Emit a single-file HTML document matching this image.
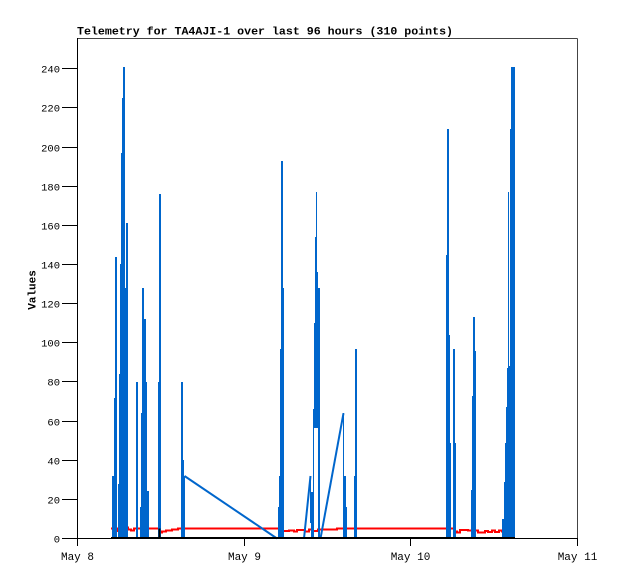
<!DOCTYPE html>
<html><head><meta charset="utf-8"><style>
html,body{margin:0;padding:0;background:#fff;}
svg{display:block;}
text{font-family:"Liberation Mono","DejaVu Sans Mono",monospace;fill:#000;}
</style></head><body>
<svg width="618" height="579" viewBox="0 0 618 579" xmlns="http://www.w3.org/2000/svg">
<rect x="0" y="0" width="618" height="579" fill="#fff"/>
<!-- frame -->
<line x1="77.5" y1="38.5" x2="577.5" y2="38.5" stroke="#444" stroke-width="1"/>
<line x1="577.5" y1="38.5" x2="577.5" y2="538.5" stroke="#444" stroke-width="1"/>
<line x1="77.5" y1="38" x2="77.5" y2="546" stroke="#000" stroke-width="1"/>
<line x1="77" y1="538.5" x2="578" y2="538.5" stroke="#000" stroke-width="1"/>
<!-- ticks -->
<g stroke="#000" stroke-width="1">
<line x1="62" y1="538.5" x2="77.5" y2="538.5"/>
<line x1="62" y1="499.5" x2="77.5" y2="499.5"/>
<line x1="62" y1="460.5" x2="77.5" y2="460.5"/>
<line x1="62" y1="421.5" x2="77.5" y2="421.5"/>
<line x1="62" y1="381.5" x2="77.5" y2="381.5"/>
<line x1="62" y1="342.5" x2="77.5" y2="342.5"/>
<line x1="62" y1="303.5" x2="77.5" y2="303.5"/>
<line x1="62" y1="264.5" x2="77.5" y2="264.5"/>
<line x1="62" y1="225.5" x2="77.5" y2="225.5"/>
<line x1="62" y1="186.5" x2="77.5" y2="186.5"/>
<line x1="62" y1="147.5" x2="77.5" y2="147.5"/>
<line x1="62" y1="107.5" x2="77.5" y2="107.5"/>
<line x1="62" y1="68.5" x2="77.5" y2="68.5"/>
<line x1="77.5" y1="538" x2="77.5" y2="546"/>
<line x1="244.5" y1="538" x2="244.5" y2="546"/>
<line x1="410.5" y1="538" x2="410.5" y2="546"/>
<line x1="577.5" y1="538" x2="577.5" y2="546"/>
</g>
<g font-size="10.5" text-anchor="end">
<text x="60" y="542.5">0</text>
<text x="60" y="503.5">20</text>
<text x="60" y="464.5">40</text>
<text x="60" y="425.5">60</text>
<text x="60" y="385.5">80</text>
<text x="60" y="346.5">100</text>
<text x="60" y="307.5">120</text>
<text x="60" y="268.5">140</text>
<text x="60" y="229.5">160</text>
<text x="60" y="190.5">180</text>
<text x="60" y="151.5">200</text>
<text x="60" y="111.5">220</text>
<text x="60" y="72.5">240</text>
</g>
<g font-size="11" text-anchor="middle">
<text x="77.5" y="560">May 8</text>
<text x="244.5" y="560">May 9</text>
<text x="410.5" y="560">May 10</text>
<text x="577.5" y="560">May 11</text>
</g>
<text x="77" y="34.5" font-size="11.4" font-weight="bold" textLength="376" lengthAdjust="spacingAndGlyphs">Telemetry for TA4AJI-1 over last 96 hours (310 points)</text>
<text transform="translate(35.5,290) rotate(-90)" font-size="11" font-weight="bold" text-anchor="middle">Values</text>

<!-- red series -->
<polyline fill="none" stroke="#ff0000" stroke-width="2" points="
111,528.5 115,528.5 115,531 118,531 118,528.5 123,528.5 123,525 126,525 126,527.5 128,527.5 128,529.5 131,529.5 131,530.5 134,530.5 134,528.5 159,528.5 159,532.5 162,532.5 162,531.5 166,531.5 166,530.5 172,530.5 172,529.5 178,529.5 178,528.5 283,528.5 283,531 289,531 289,530.5 294,530.5 294,531.5 297,531.5 297,530 305,530 305,531.5 309,531.5 309,529.5 313,529.5 313,531 318,531 318,529.5 337,529.5 337,528.5 454,528.5 454,531.5 457,531.5 457,532.5 460,532.5 460,530 468,530 468,530.5 478,530.5 478,532.5 485,532.5 485,531 488,531 488,532 492,532 492,530.5 495,530.5 495,532 499,532 499,530.5 502,530.5 502,531.5 508,531.5"/>

<!-- blue slanted segments -->
<g fill="none" stroke="#0066cc" stroke-width="2">
<polyline points="184.5,476 277,538.5"/>
<polyline points="304,538.5 310.5,476"/>
<polyline points="320.5,538.5 343.5,413.2"/>
</g>

<!-- blue spikes as bars -->
<g fill="#0066cc" shape-rendering="crispEdges">
<!-- cluster 1 -->
<rect x="112" y="476" width="2" height="63"/>
<rect x="114" y="398" width="1" height="141"/>
<rect x="115" y="257" width="2" height="282"/>
<rect x="118" y="484" width="1" height="55"/>
<rect x="119" y="374" width="1" height="165"/>
<rect x="120" y="264" width="1" height="275"/>
<rect x="121" y="153" width="1" height="386"/>
<rect x="122" y="98" width="1" height="441"/>
<rect x="123" y="67" width="2" height="472"/>
<rect x="125" y="288" width="1" height="251"/>
<rect x="126" y="223" width="2" height="316"/>
<!-- cluster 2 -->
<rect x="136" y="382" width="2" height="157"/>
<rect x="140" y="507" width="1" height="32"/>
<rect x="141" y="413" width="1" height="126"/>
<rect x="142" y="288" width="2" height="251"/>
<rect x="144" y="319" width="2" height="220"/>
<rect x="146" y="382" width="1" height="157"/>
<rect x="147" y="491" width="2" height="48"/>
<rect x="158" y="382" width="1" height="157"/>
<rect x="159" y="194" width="2" height="345"/>
<!-- cluster at 181 -->
<rect x="181" y="382" width="2" height="157"/>
<rect x="183" y="460" width="1" height="79"/>
<rect x="184" y="476" width="1" height="63"/>
<!-- cluster at 278 -->
<rect x="278" y="507" width="1" height="32"/>
<rect x="279" y="476" width="1" height="63"/>
<rect x="280" y="349" width="1" height="190"/>
<rect x="281" y="161" width="2" height="378"/>
<rect x="283" y="288" width="1" height="251"/>
<!-- cluster at 310 -->
<rect x="310" y="476" width="1" height="47"/>
<rect x="311" y="492" width="2" height="47"/>
<rect x="313" y="409" width="1" height="130"/>
<rect x="314" y="323" width="1" height="105"/>
<rect x="315" y="237" width="1" height="191"/>
<rect x="316" y="192" width="1" height="236"/>
<rect x="317" y="272" width="1" height="156"/>
<rect x="318" y="288" width="2" height="251"/>
<rect x="343" y="413" width="1" height="126"/>
<rect x="344" y="476" width="2" height="63"/>
<rect x="346" y="507" width="1" height="32"/>
<rect x="354" y="476" width="1" height="63"/>
<rect x="355" y="349" width="2" height="190"/>
<!-- right clusters -->
<rect x="446" y="255" width="1" height="284"/>
<rect x="447" y="129" width="2" height="410"/>
<rect x="449" y="335" width="1" height="204"/>
<rect x="450" y="443" width="1" height="96"/>
<rect x="453" y="349" width="2" height="190"/>
<rect x="455" y="443" width="1" height="96"/>
<rect x="471" y="490" width="1" height="49"/>
<rect x="472" y="396" width="1" height="143"/>
<rect x="473" y="317" width="2" height="222"/>
<rect x="475" y="351" width="1" height="188"/>
<rect x="502" y="519" width="2" height="20"/>
<rect x="504" y="482" width="1" height="57"/>
<rect x="505" y="443" width="1" height="96"/>
<rect x="506" y="407" width="1" height="132"/>
<rect x="507" y="368" width="1" height="171"/>
<rect x="508" y="192" width="1" height="347"/>
<rect x="509" y="366" width="1" height="173"/>
<rect x="510" y="129" width="1" height="410"/>
<rect x="511" y="67" width="4" height="472"/>
</g>

<!-- black series -->
<polyline fill="none" stroke="#000" stroke-width="2" points="111,538 159.5,538 159.5,528.5 159.5,538 515,538"/>
</svg>
</body></html>
